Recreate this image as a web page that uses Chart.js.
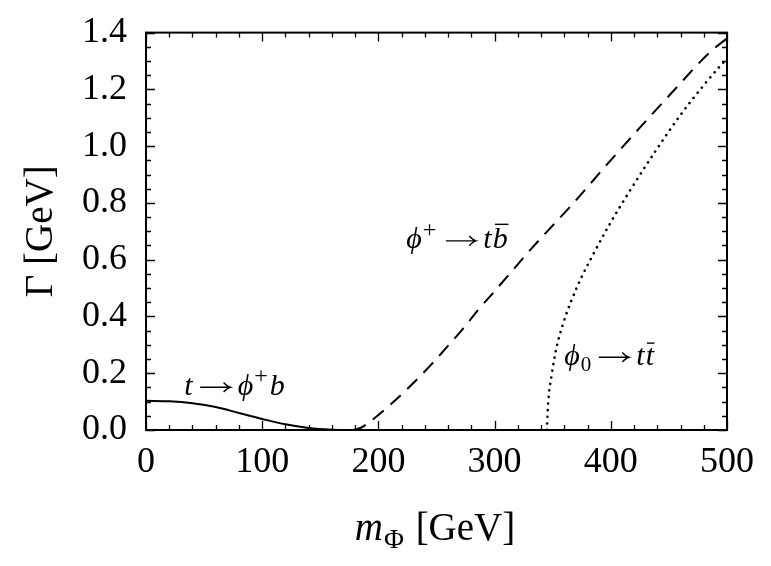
<!DOCTYPE html>
<html>
<head>
<meta charset="utf-8">
<script src="https://cdn.jsdelivr.net/npm/chart.js@4.4.1/dist/chart.umd.min.js"></script>
<style>
  html, body { margin: 0; padding: 0; background: #fff; }
  #wrap { width: 771px; height: 566px; }
</style>
</head>
<body>
<div id="wrap"><canvas id="grafico" width="771" height="566"></canvas></div>
<script>
// t -> phi+ b (solid)
const massTop = [0, 20, 40, 60, 80, 100, 120, 140, 160, 170];
const widthTop = [0.103, 0.101, 0.094, 0.081, 0.060, 0.039, 0.020, 0.007, 0.001, 0];

// phi+ -> t bbar (dashed)
const massCharged = [178, 185, 193, 210, 227, 244, 257, 272, 286, 300, 315, 328, 339, 368, 396, 425, 454, 485, 500];
const widthCharged = [0, 0.008, 0.03, 0.088, 0.153, 0.224, 0.283, 0.353, 0.424, 0.489, 0.56, 0.622, 0.672, 0.80, 0.932, 1.065, 1.195, 1.33, 1.38];

// phi0 -> t tbar (dotted)
const massNeutral = [345, 346, 349, 353, 359, 366, 375, 385, 399, 416, 438, 460, 480, 500];
const widthNeutral = [0, 0.09, 0.19, 0.285, 0.375, 0.455, 0.54, 0.62, 0.725, 0.84, 0.98, 1.11, 1.215, 1.31];

const xTicks = [0, 100, 200, 300, 400, 500];
const yTicks = [0.0, 0.2, 0.4, 0.6, 0.8, 1.0, 1.2, 1.4];

const SERIF = '"Liberation Serif", "DejaVu Serif", serif';

function punti(xs, ys) {
    return xs.map((x, i) => ({ x: x, y: ys[i] }));
}

// draws a list of pieces: {t, it, sub, sup, bar, arrow}
function testoRicco(ctx, x, y, pezzi, size) {
    let cx = x;
    pezzi.forEach((p) => {
        if (p.arrow) {
            const gap = size * 0.25;
            const len = size * 1.0;
            const ay = y - size * 0.25;
            ctx.beginPath();
            ctx.lineWidth = 1.4;
            ctx.moveTo(cx + gap, ay);
            ctx.lineTo(cx + gap + len, ay);
            ctx.moveTo(cx + gap + len - size * 0.22, ay - size * 0.16);
            ctx.quadraticCurveTo(cx + gap + len - size * 0.08, ay - size * 0.02, cx + gap + len, ay);
            ctx.quadraticCurveTo(cx + gap + len - size * 0.08, ay + size * 0.02, cx + gap + len - size * 0.22, ay + size * 0.16);
            ctx.stroke();
            cx += len + gap * 2;
            return;
        }
        let s = size;
        let dy = 0;
        if (p.sub) { s = size * 0.7; dy = size * 0.2; }
        if (p.sup) { s = size * 0.8; dy = -size * 0.38; }
        ctx.font = (p.it ? "italic " : "") + s + "px " + SERIF;
        ctx.fillText(p.t, cx, y + dy);
        const w = ctx.measureText(p.t).width;
        if (p.bar) {
            ctx.beginPath();
            ctx.lineWidth = 1.4;
            ctx.moveTo(cx + w * 0.15, y - size * (p.barH || 0.8));
            ctx.lineTo(cx + w * 1.05, y - size * (p.barH || 0.8));
            ctx.stroke();
        }
        cx += w + (p.pad || 0);
    });
    return cx - x;
}

const etichette = [
    { x: 33, y: 0.124, pezzi: [{ t: "t", it: true }, { arrow: true }, { t: "\u03d5", it: true, pad: 1 }, { t: "+", sup: true, pad: 2 }, { t: "b", it: true }] },
    { x: 224, y: 0.64, pezzi: [{ t: "\u03d5", it: true, pad: 1 }, { t: "+", sup: true, pad: 2 }, { arrow: true }, { t: "t", it: true, pad: 1 }, { t: "b", it: true, bar: true }] },
    { x: 360, y: 0.23, pezzi: [{ t: "\u03d5", it: true, pad: 1 }, { t: "0", sub: true }, { arrow: true }, { t: "t", it: true, pad: 1 }, { t: "t", it: true, bar: true, barH: 0.72 }] }
];

const decorazioni = {
    id: "decorazioni",
    afterDraw(chart) {
        const ctx = chart.ctx;
        const a = chart.chartArea;
        const sx = chart.scales.x;
        const sy = chart.scales.y;
        ctx.save();
        ctx.strokeStyle = "#000";
        ctx.fillStyle = "#000";

        // inward ticks on all four sides
        ctx.lineWidth = 1.3;
        for (let v = 0; v <= 500; v += 20) {
            const px = Math.round(sx.getPixelForValue(v)) + 0.5;
            const len = v % 100 === 0 ? 9 : 5;
            ctx.beginPath();
            ctx.moveTo(px, a.bottom); ctx.lineTo(px, a.bottom - len);
            ctx.moveTo(px, a.top); ctx.lineTo(px, a.top + len);
            ctx.stroke();
        }
        for (let k = 0; k <= 28; k++) {
            const py = Math.round(sy.getPixelForValue(k * 0.05)) + 0.5;
            const len = k % 4 === 0 ? 9 : 5;
            ctx.beginPath();
            ctx.moveTo(a.left, py); ctx.lineTo(a.left + len, py);
            ctx.moveTo(a.right, py); ctx.lineTo(a.right - len, py);
            ctx.stroke();
        }

        // frame
        ctx.lineWidth = 2;
        ctx.strokeRect(a.left, a.top, a.right - a.left, a.bottom - a.top);

        // curve labels
        ctx.textAlign = "left";
        ctx.textBaseline = "alphabetic";
        etichette.forEach((e) => {
            testoRicco(ctx, sx.getPixelForValue(e.x), sy.getPixelForValue(e.y), e.pezzi, 30);
        });

        // x axis title
        const titoloX = [{ t: "m", it: true, pad: 1 }, { t: "\u03a6", sub: true, pad: 2 }, { t: " [GeV]" }];
        ctx.globalAlpha = 0;
        const w = testoRicco(ctx, 0, 0, titoloX, 39);
        ctx.globalAlpha = 1;
        testoRicco(ctx, 435 - w / 2, 540, titoloX, 39);

        // y axis title
        ctx.save();
        ctx.translate(52, (a.top + a.bottom) / 2);
        ctx.rotate(-Math.PI / 2);
        ctx.font = "39px " + SERIF;
        ctx.textAlign = "center";
        ctx.fillText("\u0393 [GeV]", 0, 0);
        ctx.restore();

        ctx.restore();
    }
};

const ctx = document.getElementById("grafico").getContext("2d");

new Chart(ctx, {
    type: "scatter",
    data: {
        datasets: [
            {
                label: "t -> phi+ b",
                data: punti(massTop, widthTop),
                showLine: true,
                borderColor: "#000",
                borderWidth: 2,
                pointRadius: 0,
                cubicInterpolationMode: "monotone"
            },
            {
                label: "phi+ -> t bbar",
                data: punti(massCharged, widthCharged),
                showLine: true,
                borderColor: "#000",
                borderWidth: 2,
                borderDash: [14, 9],
                pointRadius: 0,
                cubicInterpolationMode: "monotone"
            },
            {
                label: "phi0 -> t tbar",
                data: punti(massNeutral, widthNeutral),
                showLine: true,
                borderColor: "#000",
                borderWidth: 2.6,
                borderDash: [0.1, 6.5],
                borderCapStyle: "round",
                pointRadius: 0,
                cubicInterpolationMode: "monotone"
            }
        ]
    },
    options: {
        responsive: false,
        animation: false,
        layout: { padding: { left: 0, right: 44, top: 28, bottom: 0 } },
        plugins: {
            legend: { display: false },
            tooltip: { enabled: false }
        },
        scales: {
            x: {
                type: "linear",
                min: 0,
                max: 500,
                afterBuildTicks: (s) => { s.ticks = xTicks.map((v) => ({ value: v })); },
                afterFit: (s) => { s.height = 136; },
                grid: { display: false },
                border: { display: false },
                ticks: {
                    color: "#000",
                    padding: 3,
                    maxRotation: 0,
                    font: { family: SERIF, size: 36 }
                }
            },
            y: {
                type: "linear",
                min: 0,
                max: 1.4,
                afterBuildTicks: (s) => { s.ticks = yTicks.map((v) => ({ value: v })); },
                afterFit: (s) => { s.width = 146; },
                grid: { display: false },
                border: { display: false },
                ticks: {
                    color: "#000",
                    padding: 11,
                    font: { family: SERIF, size: 36 },
                    callback: (v) => Number(v).toFixed(1)
                }
            }
        }
    },
    plugins: [decorazioni]
});
</script>
</body>
</html>
